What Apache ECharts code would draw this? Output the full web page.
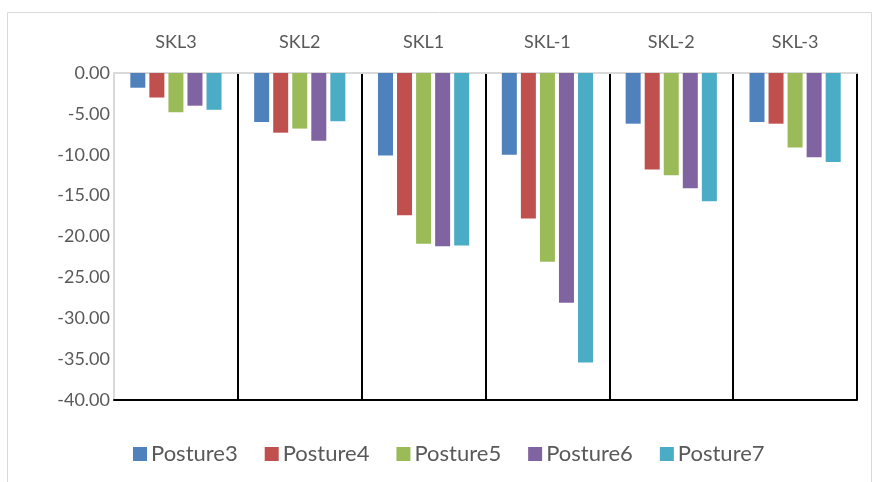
<!DOCTYPE html>
<html>
<head>
<meta charset="utf-8">
<script src="https://cdn.jsdelivr.net/npm/echarts@6/dist/echarts.min.js"></script>
<style>html,body{margin:0;padding:0;background:#fff}#c{width:874px;height:482px}</style>
</head>
<body>
<div id="c"></div>
<script>
const categories = ['SKL3', 'SKL2', 'SKL1', 'SKL-1', 'SKL-2', 'SKL-3'];
const seriesNames = ['Posture3', 'Posture4', 'Posture5', 'Posture6', 'Posture7'];
const posture3 = [-1.8, -6.0, -10.1, -10.0, -6.2, -6.0];
const posture4 = [-3.0, -7.3, -17.4, -17.8, -11.8, -6.2];
const posture5 = [-4.8, -6.8, -20.9, -23.1, -12.5, -9.1];
const posture6 = [-4.0, -8.3, -21.2, -28.1, -14.1, -10.3];
const posture7 = [-4.5, -5.9, -21.1, -35.4, -15.7, -10.9];
const colors = ['#4F81BD', '#C0504D', '#9BBB59', '#8064A2', '#4BACC6'];
const values = [posture3, posture4, posture5, posture6, posture7];

const FONT = 'Lato';
const chart = echarts.init(document.getElementById('c'));
chart.setOption({
  animation: false,
  backgroundColor: '#fff',
  textStyle: { fontFamily: FONT },
  graphic: [{
    type: 'rect', left: 5, top: 10, shape: { width: 864, height: 470 },
    style: { fill: 'none', stroke: '#d9d9d9', lineWidth: 1 }, silent: true, z: -1
  }],
  grid: { left: 114, right: 17, top: 73, bottom: 82 },
  legend: {
    data: seriesNames, left: 128, top: 438, icon: 'rect',
    itemWidth: 14, itemHeight: 14, itemGap: 27,
    textStyle: { fontFamily: FONT, fontSize: 22, color: '#595959', padding: [0, 0, 0, -1] }
  },
  xAxis: [{
    type: 'category', data: categories, position: 'top',
    axisLine: { show: true, lineStyle: { color: '#d9d9d9', width: 2 } },
    axisTick: { show: false },
    axisLabel: { fontFamily: FONT, fontSize: 18, color: '#595959', margin: 22 },
    splitLine: { show: true, showMinLine: false, lineStyle: { color: '#000', width: 2 } }
  }, {
    type: 'category', data: categories, position: 'bottom',
    axisLine: { show: true, onZero: false, lineStyle: { color: '#000', width: 2 } },
    axisTick: { show: false }, axisLabel: { show: false }, splitLine: { show: false }
  }],
  yAxis: {
    type: 'value', min: -40, max: 0, interval: 5,
    axisLine: { show: true, lineStyle: { color: '#d9d9d9', width: 2 } },
    axisTick: { show: false },
    splitLine: { show: false },
    axisLabel: { fontFamily: FONT, fontSize: 18, color: '#595959', margin: 4,
      formatter: v => v.toFixed(2) }
  },
  series: seriesNames.map((n, i) => ({
    name: n, type: 'bar', data: values[i], xAxisIndex: 0,
    barWidth: 15, barGap: '27%',
    itemStyle: { color: colors[i] }
  }))
});
</script>
</body>
</html>
